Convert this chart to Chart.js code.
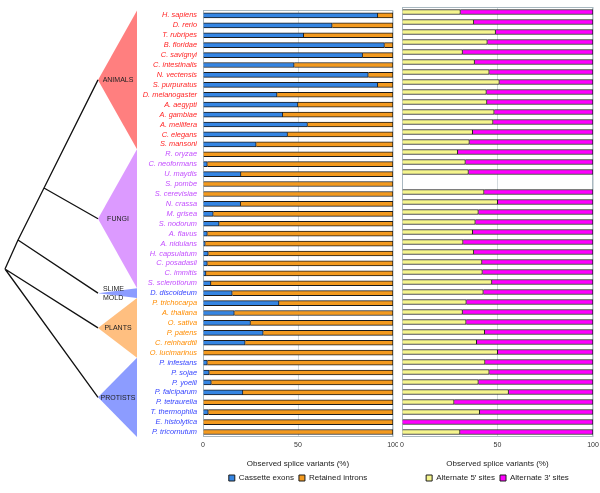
<!DOCTYPE html>
<html>
<head>
<meta charset="utf-8">
<script src="https://cdn.jsdelivr.net/npm/chart.js@4"></script>
<style>
  body { margin: 0; background: #fff; width: 600px; height: 493px; position: relative; overflow: hidden; }
  #left { position: absolute; left: 0; top: 0; }
  #right { position: absolute; left: 396px; top: 0; }
</style>
</head>
<body>
<canvas id="left" width="398" height="493"></canvas>
<canvas id="right" width="204" height="493"></canvas>
<script>
const FONT = '"Liberation Sans", Arial, sans-serif';

// species, top to bottom
const species = [
  'H. sapiens', 'D. rerio', 'T. rubripes', 'B. floridae', 'C. savignyi', 'C. intestinalis',
  'N. vectensis', 'S. purpuratus', 'D. melanogaster', 'A. aegypti', 'A. gambiae', 'A. mellifera',
  'C. elegans', 'S. mansoni',
  'R. oryzae', 'C. neoformans', 'U. maydis', 'S. pombe', 'S. cerevisiae', 'N. crassa', 'M. grisea',
  'S. nodorum', 'A. flavus', 'A. nidulans', 'H. capsulatum', 'C. posadasii', 'C. immitis', 'S. sclerotiorum',
  'D. discoideum',
  'P. trichocarpa', 'A. thaliana', 'O. sativa', 'P. patens', 'C. reinhardtii', 'O. lucimarinus',
  'P. infestans', 'P. sojae', 'P. yoelii', 'P. falciparum', 'P. tetraurelia', 'T. thermophila',
  'E. histolytica', 'P. tricornutum'
];

const groupNames = ['ANIMALS', 'FUNGI', 'SLIME MOLD', 'PLANTS', 'PROTISTS'];
const groupSizes = [14, 14, 1, 6, 8];
const groupText = ['#FF2626', '#C24DFF', '#3645FF', '#FF8C00', '#3645FF'];
const groupFill = ['#FF7F7F', '#DC9AFF', '#8C9CFF', '#FFBF80', '#8C9CFF'];

// left panel (%)
const cassette = [92, 68, 53, 95.5, 84, 48, 87, 92, 39, 50, 42, 55, 44.5, 28,
  0, 2.3, 20, 0, 0, 19.8, 5.4, 8.5, 2.3, 1.2, 2.8, 2.3, 1.6, 4.2,
  15.4,
  40, 16.5, 25, 31.7, 22.2, 0,
  2.3, 3.3, 4.4, 21, 0, 2.8, 0, 0];
const retained = [8, 32, 47, 4.5, 16, 52, 13, 8, 61, 50, 58, 45, 55.5, 72,
  100, 97.7, 80, 100, 100, 80.2, 94.6, 91.5, 97.7, 98.8, 97.2, 97.7, 98.4, 95.8,
  84.6,
  60, 83.5, 75, 68.3, 77.8, 100,
  97.7, 96.7, 95.6, 79, 100, 97.2, 100, 100];

// right panel (%)
const alt5 = [30.6, 37.6, 49, 44.7, 31.7, 38, 45.7, 51, 44.2, 44.5, 48.3, 47.7, 37, 35.3,
  29.2, 33.2, 34.8, null, 43, 50.1, 40, 38.4, 37, 32, 37.6, 41.9, 42.1, 47.1,
  42.6,
  33.7, 31.7, 33.6, 43.3, 39.1, 50.1,
  43.5, 45.7, 40, 55.8, 27.3, 40.7, 0, 30.4];
const alt3 = [69.4, 62.4, 51, 55.3, 68.3, 62, 54.3, 49, 55.8, 55.5, 51.7, 52.3, 63, 64.7,
  70.8, 66.8, 65.2, null, 57, 49.9, 60, 61.6, 63, 68, 62.4, 58.1, 57.9, 52.9,
  57.4,
  66.3, 68.3, 66.4, 56.7, 60.9, 49.9,
  56.5, 54.3, 60, 44.2, 72.7, 59.3, 100, 69.6];

const xTicks = [0, 50, 100];

// which group a row belongs to
function groupOf(i) {
  let n = 0;
  for (let g = 0; g < groupSizes.length; g++) {
    n += groupSizes[g];
    if (i < n) return g;
  }
  return groupSizes.length - 1;
}

// light box round the plot area
const boxPlugin = {
  id: 'box',
  beforeDatasetsDraw(chart) {
    const a = chart.chartArea;
    const ctx = chart.ctx;
    ctx.save();
    ctx.strokeStyle = '#A9B8C0';
    ctx.lineWidth = 1;
    ctx.strokeRect(Math.round(a.left) + 0.5, Math.round(a.top) + 0.5,
      Math.round(a.right - a.left) - 1, Math.round(a.bottom - a.top) - 1);
    ctx.restore();
  }
};

// dendrogram + coloured triangles on the left
const treePlugin = {
  id: 'tree',
  afterDraw(chart) {
    const ctx = chart.ctx;
    const y = chart.scales.y;
    const half = (y.getPixelForValue(1) - y.getPixelForValue(0)) / 2;
    const baseX = 137, apexX = 98;
    const apex = [];
    let start = 0;
    ctx.save();
    groupSizes.forEach((n, g) => {
      const top = y.getPixelForValue(start) - half;
      const bottom = y.getPixelForValue(start + n - 1) + half;
      const mid = (top + bottom) / 2;
      apex.push([apexX, mid]);
      ctx.fillStyle = groupFill[g];
      ctx.beginPath();
      ctx.moveTo(apexX, mid);
      ctx.lineTo(baseX, top);
      ctx.lineTo(baseX, bottom);
      ctx.closePath();
      ctx.fill();
      start += n;
    });

    // branches
    const root = [5, 269], n1 = [18, 240], n2 = [44, 188];
    const lines = [
      [n2, apex[0]], [n2, apex[1]], [n1, n2], [n1, apex[2]],
      [root, n1], [root, apex[3]], [root, apex[4]]
    ];
    ctx.strokeStyle = '#111';
    ctx.lineWidth = 1.3;
    ctx.beginPath();
    lines.forEach(([p, q]) => { ctx.moveTo(p[0], p[1]); ctx.lineTo(q[0], q[1]); });
    ctx.stroke();

    // group names
    ctx.fillStyle = '#222';
    ctx.font = '7px ' + FONT;
    ctx.textBaseline = 'middle';
    groupNames.forEach((name, g) => {
      const [ax, ay] = apex[g];
      if (name === 'SLIME MOLD') {
        ctx.textAlign = 'left';
        ctx.fillText('SLIME', 103, ay - 4.5);
        ctx.fillText('MOLD', 103, ay + 4.5);
      } else {
        ctx.textAlign = 'center';
        ctx.fillText(name, ax + 20, ay + 0.5);
      }
    });
    ctx.restore();
  }
};

function xScale() {
  return {
    stacked: true,
    min: 0,
    max: 100,
    afterBuildTicks: s => { s.ticks = xTicks.map(v => ({ value: v })); },
    ticks: { font: { size: 7, family: FONT }, color: '#333', padding: 4, maxRotation: 0 },
    grid: { color: '#D3DADE', drawTicks: false },
    border: { display: false },
    title: {
      display: true, text: 'Observed splice variants (%)', color: '#222',
      font: { size: 8, family: FONT }, padding: { top: 4, bottom: 0 }
    },
    afterFit: s => { s.height = 32; s.paddingLeft = 0; s.paddingRight = 0; }
  };
}

function legendOpts() {
  return {
    position: 'bottom',
    fullSize: false,
    labels: {
      boxWidth: 6, boxHeight: 6, padding: 5, color: '#222',
      font: { size: 8, family: FONT }
    }
  };
}

function barSet(label, data, color) {
  return {
    label: label,
    data: data,
    backgroundColor: color,
    borderColor: '#1C1C1C',
    borderWidth: 1,
    barThickness: 5
  };
}

new Chart(document.getElementById('left'), {
  type: 'bar',
  data: {
    labels: species,
    datasets: [
      barSet('Cassette exons', cassette, '#3585E2'),
      barSet('Retained introns', retained, '#F39A1F')
    ]
  },
  options: {
    responsive: false,
    animation: false,
    indexAxis: 'y',
    layout: { padding: { left: 0, right: 5, top: 7, bottom: 1 } },
    scales: {
      x: xScale(),
      y: {
        stacked: true,
        grid: { display: false, drawTicks: false },
        border: { display: false },
        ticks: {
          autoSkip: false,
          padding: 6,
          font: { size: 7.4, family: FONT, style: 'italic' },
          color: ctx => groupText[groupOf(ctx.index)]
        },
        afterFit: s => { s.width = 203; }
      }
    },
    plugins: {
      legend: legendOpts(),
      tooltip: { enabled: false }
    }
  },
  plugins: [boxPlugin, treePlugin]
});

new Chart(document.getElementById('right'), {
  type: 'bar',
  data: {
    labels: species,
    datasets: [
      barSet('Alternate 5\u2032 sites', alt5, '#F5F58E'),
      barSet('Alternate 3\u2032 sites', alt3, '#FF00FF')
    ]
  },
  options: {
    responsive: false,
    animation: false,
    indexAxis: 'y',
    layout: { padding: { left: 6, right: 7, top: 7, bottom: 1 } },
    scales: {
      x: xScale(),
      y: { stacked: true, display: false }
    },
    plugins: {
      legend: legendOpts(),
      tooltip: { enabled: false }
    }
  },
  plugins: [boxPlugin]
});
</script>
</body>
</html>
